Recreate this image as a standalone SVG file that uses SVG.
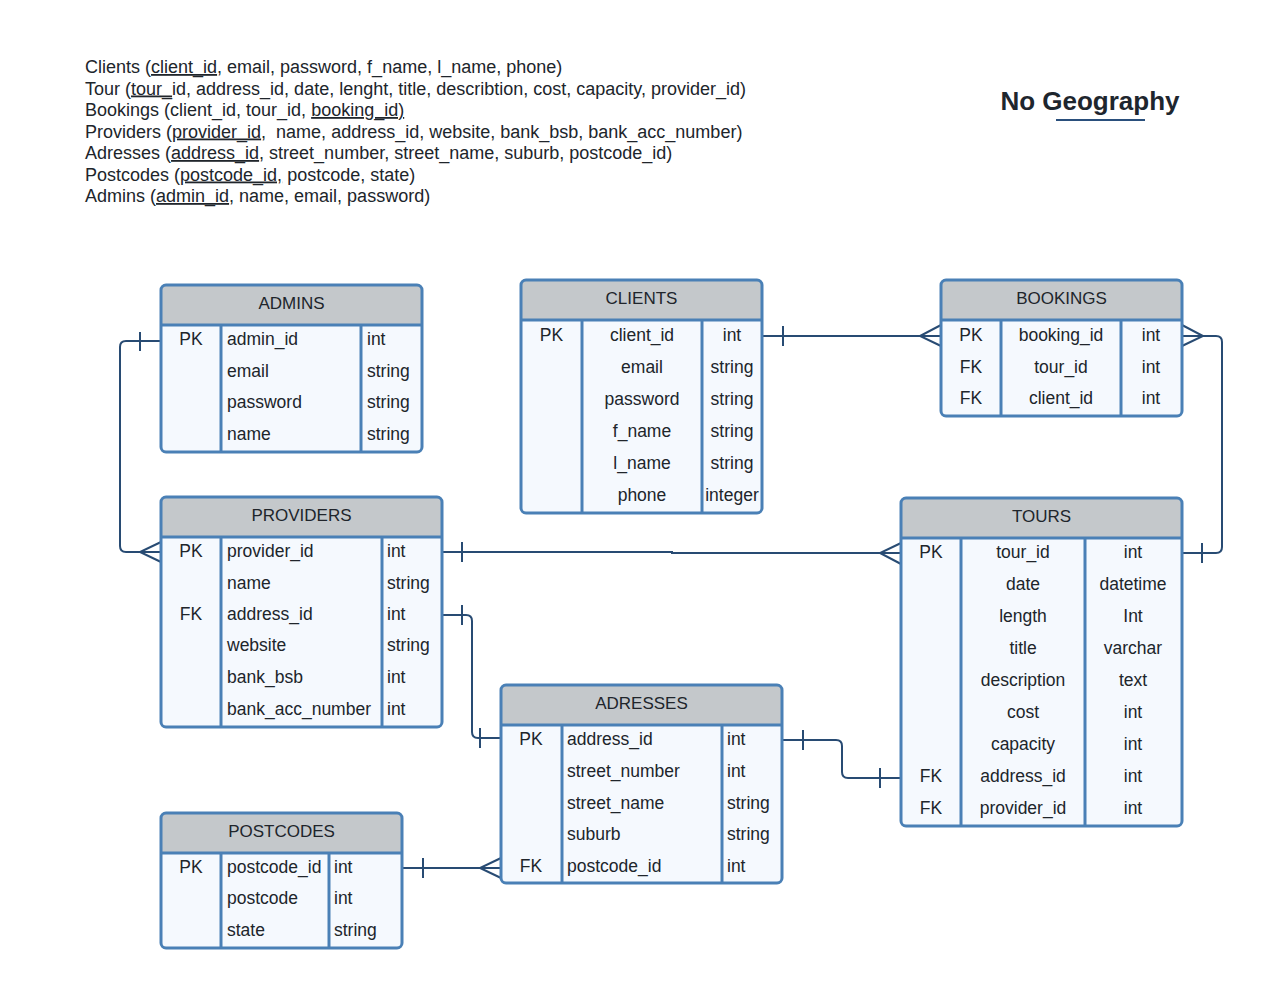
<svg xmlns="http://www.w3.org/2000/svg" width="1263" height="988" viewBox="0 0 1263 988">
<style>
text{font-family:"Liberation Sans",Arial,sans-serif;fill:#20252b}
.t{font-size:18px;white-space:pre}
.h{font-size:17px;text-anchor:middle}
.c{font-size:17.5px;text-anchor:middle}
.l{font-size:17.5px}
.body{fill:#f5f9fe}
.head{fill:#c4c8cb}
.sep{stroke:#4a80b6;stroke-width:3}
.frame{fill:none;stroke:#4a80b6;stroke-width:3}
.cn{fill:none;stroke:#284b73;stroke-width:2}
.u{text-decoration:underline}
</style>
<rect width="1263" height="988" fill="#ffffff"/>
<g id="notes">
<text class="t" x="85" y="73">Clients (<tspan class="u">client_id</tspan>, email, password, f_name, l_name, phone)</text>
<text class="t" x="85" y="94.5">Tour (<tspan class="u">tour_</tspan>id, address_id, date, lenght, title, describtion, cost, capacity, provider_id)</text>
<text class="t" x="85" y="116">Bookings (client_id, tour_id, <tspan class="u">booking_id)</tspan></text>
<text class="t" x="85" y="137.5" xml:space="preserve">Providers (<tspan class="u">provider_id</tspan>,  name, address_id, website, bank_bsb, bank_acc_number)</text>
<text class="t" x="85" y="159">Adresses (<tspan class="u">address_id</tspan>, street_number, street_name, suburb, postcode_id)</text>
<text class="t" x="85" y="180.5">Postcodes (<tspan class="u">postcode_id,</tspan> postcode, state)</text>
<text class="t" x="85" y="202">Admins (<tspan class="u">admin_id</tspan>, name, email, password)</text>
</g>
<g id="title">
<text x="1090" y="110" style="font-size:26px;font-weight:bold;text-anchor:middle;fill:#1e262e">No Geography</text>
<line x1="1056" y1="120" x2="1145" y2="120" stroke="#2a4f7c" stroke-width="2"/>
</g>
<g id="connectors">
<path class="cn" d="M161 341 H126 Q120 341 120 347 V546 Q120 552 126 552 H161"/>
<line class="cn" x1="140" y1="332" x2="140" y2="351"/>
<path class="cn" d="M161 542 L140 552 L161 562"/>
<path class="cn" d="M762 336 H941"/>
<line class="cn" x1="783" y1="326" x2="783" y2="346"/>
<path class="cn" d="M941 325 L920 336 L941 346"/>
<path class="cn" d="M1182 336 H1216 Q1222 336 1222 342 V547 Q1222 553 1216 553 H1182"/>
<path class="cn" d="M1182 325 L1203 336 L1182 346"/>
<line class="cn" x1="1202" y1="543" x2="1202" y2="563"/>
<path class="cn" d="M442 552 H672 V553 H901"/>
<line class="cn" x1="462" y1="542" x2="462" y2="562"/>
<path class="cn" d="M901 543 L880 553 L901 564"/>
<path class="cn" d="M442 615 H466 Q472 615 472 621 V732 Q472 738 478 738 H501"/>
<line class="cn" x1="462" y1="605" x2="462" y2="625"/>
<line class="cn" x1="480" y1="728" x2="480" y2="748"/>
<path class="cn" d="M782 740 H836 Q842 740 842 746 V772 Q842 778 848 778 H901"/>
<line class="cn" x1="803" y1="730" x2="803" y2="750"/>
<line class="cn" x1="880" y1="768" x2="880" y2="788"/>
<path class="cn" d="M402 868 H501"/>
<line class="cn" x1="423" y1="858" x2="423" y2="878"/>
<path class="cn" d="M501 858 L480 868 L501 878"/>
</g>
<g id="admins">
<rect class="body" x="161" y="285" width="261" height="167" rx="5"/>
<path class="head" d="M161 325 V290 Q161 285 166 285 H417 Q422 285 422 290 V325 Z"/>
<line class="sep" x1="161" y1="325" x2="422" y2="325"/>
<line class="sep" x1="221" y1="325" x2="221" y2="452"/>
<line class="sep" x1="361" y1="325" x2="361" y2="452"/>
<rect class="frame" x="161" y="285" width="261" height="167" rx="5"/>
<text class="h" x="291.5" y="309">ADMINS</text>
<text class="c" x="191" y="345">PK</text>
<text class="l" x="227" y="345">admin_id</text><text class="l" x="367" y="345">int</text>
<text class="l" x="227" y="376.5">email</text><text class="l" x="367" y="376.5">string</text>
<text class="l" x="227" y="408">password</text><text class="l" x="367" y="408">string</text>
<text class="l" x="227" y="440">name</text><text class="l" x="367" y="440">string</text>
</g>
<g id="clients">
<rect class="body" x="521" y="280" width="241" height="233" rx="5"/>
<path class="head" d="M521 320 V285 Q521 280 526 280 H757 Q762 280 762 285 V320 Z"/>
<line class="sep" x1="521" y1="320" x2="762" y2="320"/>
<line class="sep" x1="582" y1="320" x2="582" y2="513"/>
<line class="sep" x1="702" y1="320" x2="702" y2="513"/>
<rect class="frame" x="521" y="280" width="241" height="233" rx="5"/>
<text class="h" x="641.5" y="304">CLIENTS</text>
<text class="c" x="551.5" y="341">PK</text>
<text class="c" x="642" y="341">client_id</text><text class="c" x="732" y="341">int</text>
<text class="c" x="642" y="372.5">email</text><text class="c" x="732" y="372.5">string</text>
<text class="c" x="642" y="404.5">password</text><text class="c" x="732" y="404.5">string</text>
<text class="c" x="642" y="436.5">f_name</text><text class="c" x="732" y="436.5">string</text>
<text class="c" x="642" y="468.5">l_name</text><text class="c" x="732" y="468.5">string</text>
<text class="c" x="642" y="500.5">phone</text><text class="c" x="732" y="500.5">integer</text>
</g>
<g id="bookings">
<rect class="body" x="941" y="280" width="241" height="136" rx="5"/>
<path class="head" d="M941 320 V285 Q941 280 946 280 H1177 Q1182 280 1182 285 V320 Z"/>
<line class="sep" x1="941" y1="320" x2="1182" y2="320"/>
<line class="sep" x1="1001" y1="320" x2="1001" y2="416"/>
<line class="sep" x1="1121" y1="320" x2="1121" y2="416"/>
<rect class="frame" x="941" y="280" width="241" height="136" rx="5"/>
<text class="h" x="1061.5" y="304">BOOKINGS</text>
<text class="c" x="971" y="340.5">PK</text><text class="c" x="1061" y="340.5">booking_id</text><text class="c" x="1151" y="340.5">int</text>
<text class="c" x="971" y="372.5">FK</text><text class="c" x="1061" y="372.5">tour_id</text><text class="c" x="1151" y="372.5">int</text>
<text class="c" x="971" y="404">FK</text><text class="c" x="1061" y="404">client_id</text><text class="c" x="1151" y="404">int</text>
</g>
<g id="providers">
<rect class="body" x="161" y="497" width="281" height="230" rx="5"/>
<path class="head" d="M161 537 V502 Q161 497 166 497 H437 Q442 497 442 502 V537 Z"/>
<line class="sep" x1="161" y1="537" x2="442" y2="537"/>
<line class="sep" x1="221" y1="537" x2="221" y2="727"/>
<line class="sep" x1="382" y1="537" x2="382" y2="727"/>
<rect class="frame" x="161" y="497" width="281" height="230" rx="5"/>
<text class="h" x="301.5" y="521">PROVIDERS</text>
<text class="c" x="191" y="557">PK</text><text class="l" x="227" y="557">provider_id</text><text class="l" x="387" y="557">int</text>
<text class="l" x="227" y="588.5">name</text><text class="l" x="387" y="588.5">string</text>
<text class="c" x="191" y="619.5">FK</text><text class="l" x="227" y="619.5">address_id</text><text class="l" x="387" y="619.5">int</text>
<text class="l" x="227" y="651">website</text><text class="l" x="387" y="651">string</text>
<text class="l" x="227" y="683">bank_bsb</text><text class="l" x="387" y="683">int</text>
<text class="l" x="227" y="715">bank_acc_number</text><text class="l" x="387" y="715">int</text>
</g>
<g id="tours">
<rect class="body" x="901" y="498" width="281" height="328" rx="5"/>
<path class="head" d="M901 538 V503 Q901 498 906 498 H1177 Q1182 498 1182 503 V538 Z"/>
<line class="sep" x1="901" y1="538" x2="1182" y2="538"/>
<line class="sep" x1="961" y1="538" x2="961" y2="826"/>
<line class="sep" x1="1085" y1="538" x2="1085" y2="826"/>
<rect class="frame" x="901" y="498" width="281" height="328" rx="5"/>
<text class="h" x="1041.5" y="522">TOURS</text>
<text class="c" x="931" y="557.5">PK</text><text class="c" x="1023" y="557.5">tour_id</text><text class="c" x="1133" y="557.5">int</text>
<text class="c" x="1023" y="589.5">date</text><text class="c" x="1133" y="589.5">datetime</text>
<text class="c" x="1023" y="621.5">length</text><text class="c" x="1133" y="621.5">Int</text>
<text class="c" x="1023" y="653.5">title</text><text class="c" x="1133" y="653.5">varchar</text>
<text class="c" x="1023" y="685.5">description</text><text class="c" x="1133" y="685.5">text</text>
<text class="c" x="1023" y="717.5">cost</text><text class="c" x="1133" y="717.5">int</text>
<text class="c" x="1023" y="749.5">capacity</text><text class="c" x="1133" y="749.5">int</text>
<text class="c" x="931" y="781.5">FK</text><text class="c" x="1023" y="781.5">address_id</text><text class="c" x="1133" y="781.5">int</text>
<text class="c" x="931" y="813.5">FK</text><text class="c" x="1023" y="813.5">provider_id</text><text class="c" x="1133" y="813.5">int</text>
</g>
<g id="adresses">
<rect class="body" x="501" y="685" width="281" height="198" rx="5"/>
<path class="head" d="M501 725 V690 Q501 685 506 685 H777 Q782 685 782 690 V725 Z"/>
<line class="sep" x1="501" y1="725" x2="782" y2="725"/>
<line class="sep" x1="562" y1="725" x2="562" y2="883"/>
<line class="sep" x1="722" y1="725" x2="722" y2="883"/>
<rect class="frame" x="501" y="685" width="281" height="198" rx="5"/>
<text class="h" x="641.5" y="709">ADRESSES</text>
<text class="c" x="531" y="744.5">PK</text><text class="l" x="567" y="744.5">address_id</text><text class="l" x="727" y="744.5">int</text>
<text class="l" x="567" y="776.5">street_number</text><text class="l" x="727" y="776.5">int</text>
<text class="l" x="567" y="808.5">street_name</text><text class="l" x="727" y="808.5">string</text>
<text class="l" x="567" y="840">suburb</text><text class="l" x="727" y="840">string</text>
<text class="c" x="531" y="871.5">FK</text><text class="l" x="567" y="871.5">postcode_id</text><text class="l" x="727" y="871.5">int</text>
</g>
<g id="postcodes">
<rect class="body" x="161" y="813" width="241" height="135" rx="5"/>
<path class="head" d="M161 853 V818 Q161 813 166 813 H397 Q402 813 402 818 V853 Z"/>
<line class="sep" x1="161" y1="853" x2="402" y2="853"/>
<line class="sep" x1="221" y1="853" x2="221" y2="948"/>
<line class="sep" x1="329" y1="853" x2="329" y2="948"/>
<rect class="frame" x="161" y="813" width="241" height="135" rx="5"/>
<text class="h" x="281.5" y="837">POSTCODES</text>
<text class="c" x="191" y="872.5">PK</text><text class="l" x="227" y="872.5">postcode_id</text><text class="l" x="334" y="872.5">int</text>
<text class="l" x="227" y="904">postcode</text><text class="l" x="334" y="904">int</text>
<text class="l" x="227" y="936">state</text><text class="l" x="334" y="936">string</text>
</g>
</svg>
